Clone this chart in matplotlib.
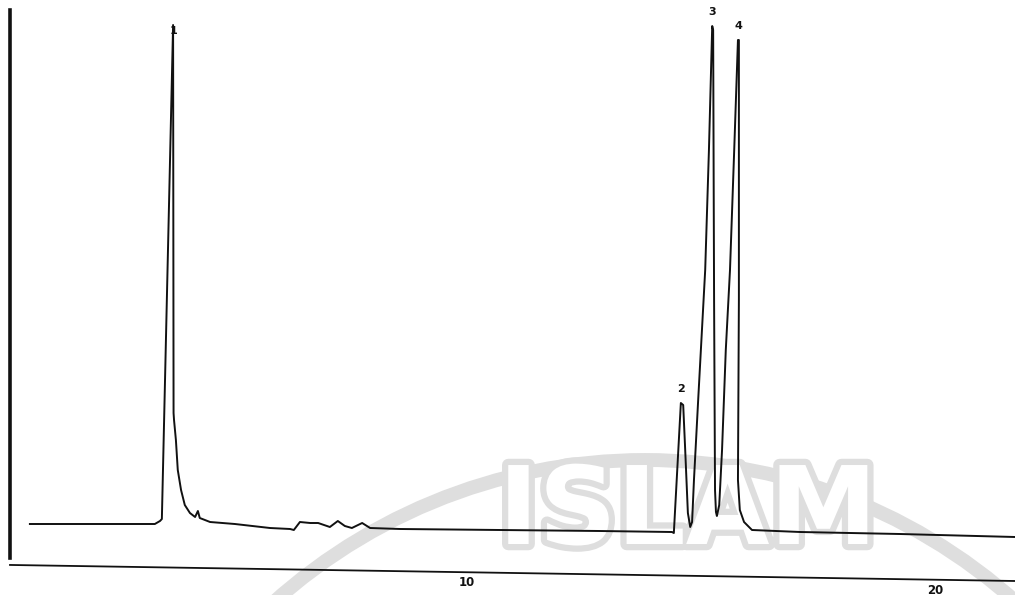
"""Chromatogram trace redrawn from a scanned report page."""

import matplotlib
matplotlib.use("Agg")
import matplotlib.pyplot as plt
import matplotlib.patheffects as pe
from matplotlib.patches import Circle


# trace: retention time (min) and detector signal (arb. units)
trace_time = [
    0.66, 2.16, 3.33, 3.44, 3.48, 3.72, 3.73, 3.74, 3.78, 3.82, 3.89, 3.97,
    4.08, 4.19, 4.25, 4.29, 4.51, 5.04, 5.79, 6.22, 6.30, 6.43, 6.65, 6.82,
    7.07, 7.24, 7.39, 7.54, 7.76, 7.93, 8.57, 10.71, 12.84, 14.38, 14.42,
    14.57, 14.62, 14.66, 14.72, 14.77, 14.81, 14.85, 14.94, 15.09, 15.17,
    15.24, 15.26, 15.28, 15.30, 15.32, 15.34, 15.39, 15.45, 15.53, 15.62,
    15.71, 15.79, 15.81, 15.81, 15.79, 15.83, 15.92, 16.09, 17.12, 19.25,
    21.71,
]
trace_signal = [
    41, 41, 41, 44, 46, 540, 152, 145, 125, 95, 75, 60,
    52, 48, 54, 47, 43, 41, 37, 36, 35, 43, 42, 42,
    38, 44, 39, 37, 42, 37, 36, 35, 34, 33, 32,
    162, 160, 118, 52, 38, 43, 85, 165, 295, 415,
    539, 535, 265, 75, 53, 49, 60, 115, 215, 295,
    415, 525, 525, 265, 85, 55, 43, 35, 33, 31,
    28,
]

peak_names = ["1", "2", "3", "4"]
peak_times = [3.72, 14.57, 15.24, 15.79]
peak_heights = [540, 162, 539, 525]

tick_values = [10, 20]
tick_labels = ["10", "20"]

INK = "#111111"
MARK = "#dedede"

fig = plt.figure(figsize=(10.15, 5.95), dpi=100, facecolor="white")

# faint watermark of the scanned page, behind everything (pixel space)
bg = fig.add_axes([0, 0, 1, 1], zorder=-1)
bg.set_xlim(0, 1015)
bg.set_ylim(595, 0)
bg.axis("off")
bg.add_patch(Circle((645, 1016), 556, fill=False, edgecolor=MARK, linewidth=10))
bg.text(688, 514, "ISLAM", ha="center", va="center", fontsize=78,
        fontweight="bold", family="Liberation Sans Narrow", color="white",
        path_effects=[pe.withStroke(linewidth=9, foreground=MARK)])

ax = fig.add_axes([10 / 1015, 1 - 581 / 595, 1 - 10 / 1015, 573 / 595])
ax.patch.set_visible(False)
ax.set_xlim(0.235, 21.71)
ax.set_ylim(-16, 557)

ax.plot(trace_time, trace_signal, color=INK, linewidth=1.4, solid_joinstyle="round")

for name, t, h in zip(peak_names, peak_times, peak_heights):
    dy = -6 if name == "1" else 14
    ax.text(t, h + dy, name, ha="center", va="center", fontsize=8,
            fontweight="bold", color=INK)

# frame: thick left rule, slightly tilted bottom rule as on the scan
for side in ["top", "right", "bottom"]:
    ax.spines[side].set_visible(False)
ax.spines["left"].set_linewidth(2.6)
ax.spines["left"].set_color(INK)
ax.spines["left"].set_bounds(7, 555)
ax.plot([0, 1], [0.028, 0.0], transform=ax.transAxes, color=INK,
        linewidth=1.3, clip_on=False)

ax.set_xticks([])
ax.set_yticks([])
for value, label in zip(tick_values, tick_labels):
    drop = -17 - (value - 10) * 0.8
    ax.text(value, drop, label, ha="center", va="center", fontsize=8.5,
            fontweight="bold", color=INK, clip_on=False)

fig.savefig("out.png", dpi=100, facecolor="white")
